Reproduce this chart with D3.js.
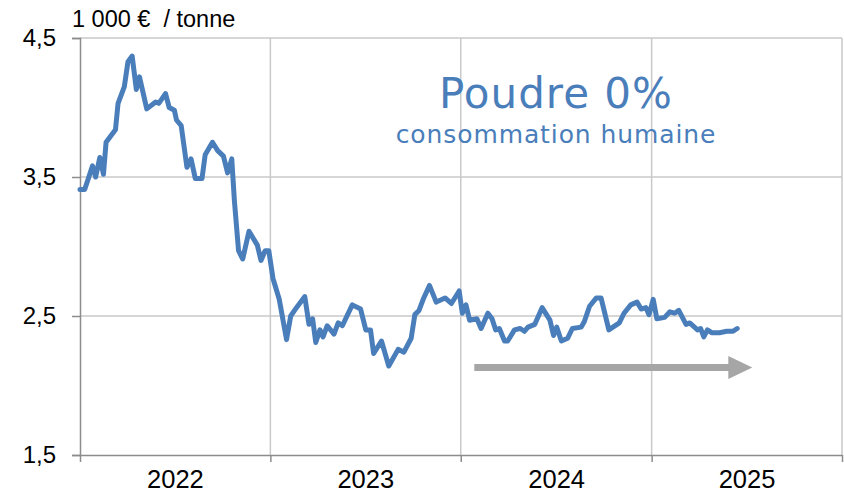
<!DOCTYPE html>
<html>
<head>
<meta charset="utf-8">
<script src="https://cdn.jsdelivr.net/npm/d3@7"></script>
<style>
    body { margin: 0; background: #ffffff; }
</style>
</head>
<body>
<div id="grafico"></div>
<script>
const fechas = [
    "2022-01-01", "2022-01-10", "2022-01-25", "2022-01-31", "2022-02-08", "2022-02-15", "2022-02-20", "2022-03-02",
    "2022-03-10", "2022-03-15", "2022-03-27", "2022-04-03", "2022-04-11", "2022-04-19", "2022-04-25", "2022-05-09",
    "2022-05-26", "2022-06-01", "2022-06-14", "2022-06-21", "2022-07-01", "2022-07-05", "2022-07-14", "2022-07-25",
    "2022-08-02", "2022-08-10", "2022-08-23", "2022-08-29", "2022-09-12", "2022-09-22", "2022-10-03", "2022-10-11",
    "2022-10-19", "2022-10-24", "2022-11-01", "2022-11-09", "2022-11-21", "2022-12-07", "2022-12-14", "2022-12-22",
    "2022-12-29",
    "2023-01-06", "2023-01-18", "2023-02-01", "2023-02-09", "2023-02-20", "2023-03-08", "2023-03-16", "2023-03-23",
    "2023-03-29", "2023-04-06", "2023-04-12", "2023-04-20", "2023-05-03", "2023-05-11", "2023-05-19", "2023-06-07",
    "2023-06-23", "2023-07-03", "2023-07-12", "2023-07-18", "2023-08-02", "2023-08-16", "2023-09-03", "2023-09-14",
    "2023-09-28", "2023-10-05", "2023-10-13", "2023-10-21", "2023-11-02", "2023-11-15", "2023-12-02", "2023-12-14",
    "2023-12-29",
    "2024-01-04", "2024-01-11", "2024-01-18", "2024-02-01", "2024-02-09", "2024-02-22", "2024-03-01", "2024-03-08",
    "2024-03-15", "2024-03-25", "2024-03-31", "2024-04-13", "2024-04-24", "2024-05-02", "2024-05-09", "2024-05-22",
    "2024-06-05", "2024-06-20", "2024-06-27", "2024-07-03", "2024-07-12", "2024-07-24", "2024-08-02", "2024-08-19",
    "2024-08-25", "2024-09-04", "2024-09-17", "2024-09-26", "2024-10-11", "2024-10-31", "2024-11-09", "2024-11-22",
    "2024-12-04", "2024-12-12", "2024-12-21", "2024-12-27",
    "2025-01-04", "2025-01-11", "2025-01-26", "2025-02-05", "2025-02-14", "2025-02-22", "2025-03-08", "2025-03-15",
    "2025-03-30", "2025-04-05", "2025-04-11", "2025-04-18", "2025-04-26", "2025-05-11", "2025-05-25", "2025-06-06",
    "2025-06-14"
];
const precios = [
    3.41, 3.41, 3.58, 3.50, 3.64, 3.52, 3.75, 3.80,
    3.84, 4.03, 4.15, 4.33, 4.37, 4.13, 4.22, 3.99,
    4.04, 4.03, 4.10, 4.00, 3.98, 3.91, 3.87, 3.57,
    3.63, 3.49, 3.49, 3.66, 3.75, 3.69, 3.65, 3.53,
    3.63, 3.33, 2.97, 2.91, 3.11, 3.01, 2.90, 2.97,
    2.97,
    2.77, 2.62, 2.33, 2.50, 2.56, 2.64, 2.44, 2.48,
    2.31, 2.40, 2.35, 2.43, 2.37, 2.45, 2.43, 2.58,
    2.55, 2.40, 2.40, 2.23, 2.32, 2.14, 2.26, 2.24,
    2.34, 2.51, 2.54, 2.62, 2.72, 2.60, 2.63, 2.59,
    2.68,
    2.52, 2.58, 2.47, 2.48, 2.41, 2.52, 2.48, 2.40,
    2.41, 2.32, 2.32, 2.40, 2.41, 2.39, 2.42, 2.44,
    2.56, 2.47, 2.36, 2.42, 2.32, 2.34, 2.41, 2.42,
    2.46, 2.57, 2.63, 2.63, 2.40, 2.45, 2.52, 2.58,
    2.60, 2.55, 2.56, 2.51,
    2.62, 2.48, 2.49, 2.53, 2.52, 2.54, 2.44, 2.45,
    2.40, 2.41, 2.35, 2.40, 2.38, 2.38, 2.39, 2.39,
    2.41
];
const anios = ["2022", "2023", "2024", "2025"];
const ticksY = [1.5, 2.5, 3.5, 4.5];
// flecha de tendencia: inicio, fin, nivel
const flechaFechas = ["2024-01-27", "2025-07-13"];
const flechaNivel = 2.13;

const ancho = 844, alto = 492;
const margen = {arriba: 38, derecha: 2, abajo: 37, izquierda: 80};
const azul = "#4a7ebb", gris = "#a6a6a6", rejilla = "#c9c9c9", ejeColor = "#8c8c8c";

const parse = d3.timeParse("%Y-%m-%d");
const datos = fechas.map((f, i) => ({fecha: parse(f), valor: precios[i]}));

const formato = d3.formatLocale({decimal: ",", thousands: " ", grouping: [3], currency: ["", " €"]}).format(".1f");

const x = d3.scaleTime()
    .domain([parse("2022-01-01"), parse("2026-01-01")])
    .range([margen.izquierda, ancho - margen.derecha]);
const y = d3.scaleLinear()
    .domain([1.5, 4.5])
    .range([alto - margen.abajo, margen.arriba]);

const $svg = d3.select("#grafico")
    .append("svg")
    .attr("width", ancho)
    .attr("height", alto)
    .style("font-family", "'Liberation Sans', Arial, sans-serif");

const limitesAnio = anios.map(a => parse(a + "-01-01")).concat([parse("2026-01-01")]);

// rejilla horizontal
$svg.append("g")
    .selectAll("line")
    .data(ticksY.slice(1))
    .join("line")
    .attr("x1", margen.izquierda)
    .attr("x2", ancho - margen.derecha)
    .attr("y1", d => y(d))
    .attr("y2", d => y(d))
    .attr("stroke", rejilla)
    .attr("stroke-width", 1.5);

// rejilla vertical
$svg.append("g")
    .selectAll("line")
    .data(limitesAnio.slice(1))
    .join("line")
    .attr("x1", d => x(d))
    .attr("x2", d => x(d))
    .attr("y1", margen.arriba)
    .attr("y2", alto - margen.abajo)
    .attr("stroke", rejilla)
    .attr("stroke-width", 1.5);

// eje Y
const ejeY = $svg.append("g")
    .attr("transform", `translate(${margen.izquierda},0)`)
    .call(d3.axisLeft(y).tickValues(ticksY).tickFormat(formato).tickSize(8).tickPadding(16));
ejeY.select(".domain").attr("stroke", ejeColor).attr("stroke-width", 1.5);
ejeY.selectAll(".tick line").attr("stroke", ejeColor).attr("stroke-width", 1.5);
ejeY.selectAll(".tick text")
    .attr("fill", "#000")
    .attr("font-size", 24)
    .attr("font-family", "'Liberation Sans', Arial, sans-serif");

// eje X: marcas en los cambios de año, etiquetas a mitad de año
const ejeX = $svg.append("g")
    .attr("transform", `translate(0,${alto - margen.abajo})`)
    .call(d3.axisBottom(x).tickValues(limitesAnio).tickFormat("").tickSize(7).tickSizeOuter(0));
ejeX.select(".domain").attr("stroke", ejeColor).attr("stroke-width", 1.5);
ejeX.selectAll(".tick line").attr("stroke", ejeColor).attr("stroke-width", 1.5);

$svg.append("g")
    .selectAll("text")
    .data(anios)
    .join("text")
    .attr("x", a => x(d3.timeMonth.offset(parse(a + "-01-01"), 6)) + 1)
    .attr("y", alto - 4)
    .attr("text-anchor", "middle")
    .attr("font-size", 25.5)
    .attr("fill", "#000")
    .text(a => a);

// unidad
$svg.append("text")
    .attr("x", 72)
    .attr("y", 27)
    .attr("font-size", 23.5)
    .attr("fill", "#000")
    .style("white-space", "pre")
    .text("1 000 €  / tonne");

// titulo
$svg.append("text")
    .attr("x", 556)
    .attr("y", 108)
    .attr("text-anchor", "middle")
    .attr("font-family", "'DejaVu Sans', Verdana, sans-serif")
    .attr("font-size", 42)
    .attr("letter-spacing", 1)
    .attr("fill", azul)
    .text("Poudre 0%");
$svg.append("text")
    .attr("x", 556)
    .attr("y", 143)
    .attr("text-anchor", "middle")
    .attr("font-family", "'DejaVu Sans', Verdana, sans-serif")
    .attr("font-size", 25)
    .attr("letter-spacing", 0.9)
    .attr("fill", azul)
    .text("consommation humaine");

// flecha
const fx0 = x(parse(flechaFechas[0])), fx1 = x(parse(flechaFechas[1])), fy = y(flechaNivel);
$svg.append("line")
    .attr("x1", fx0)
    .attr("x2", fx1 - 22)
    .attr("y1", fy)
    .attr("y2", fy)
    .attr("stroke", gris)
    .attr("stroke-width", 7);
$svg.append("path")
    .attr("d", `M${fx1 - 24},${fy - 11.5} L${fx1},${fy} L${fx1 - 24},${fy + 11.5} Z`)
    .attr("fill", gris);

// serie de precios
const linea = d3.line()
    .x(d => x(d.fecha))
    .y(d => y(d.valor));

$svg.append("path")
    .datum(datos)
    .attr("d", linea)
    .attr("fill", "none")
    .attr("stroke", azul)
    .attr("stroke-width", 5)
    .attr("stroke-linejoin", "round")
    .attr("stroke-linecap", "round");
</script>
</body>
</html>
